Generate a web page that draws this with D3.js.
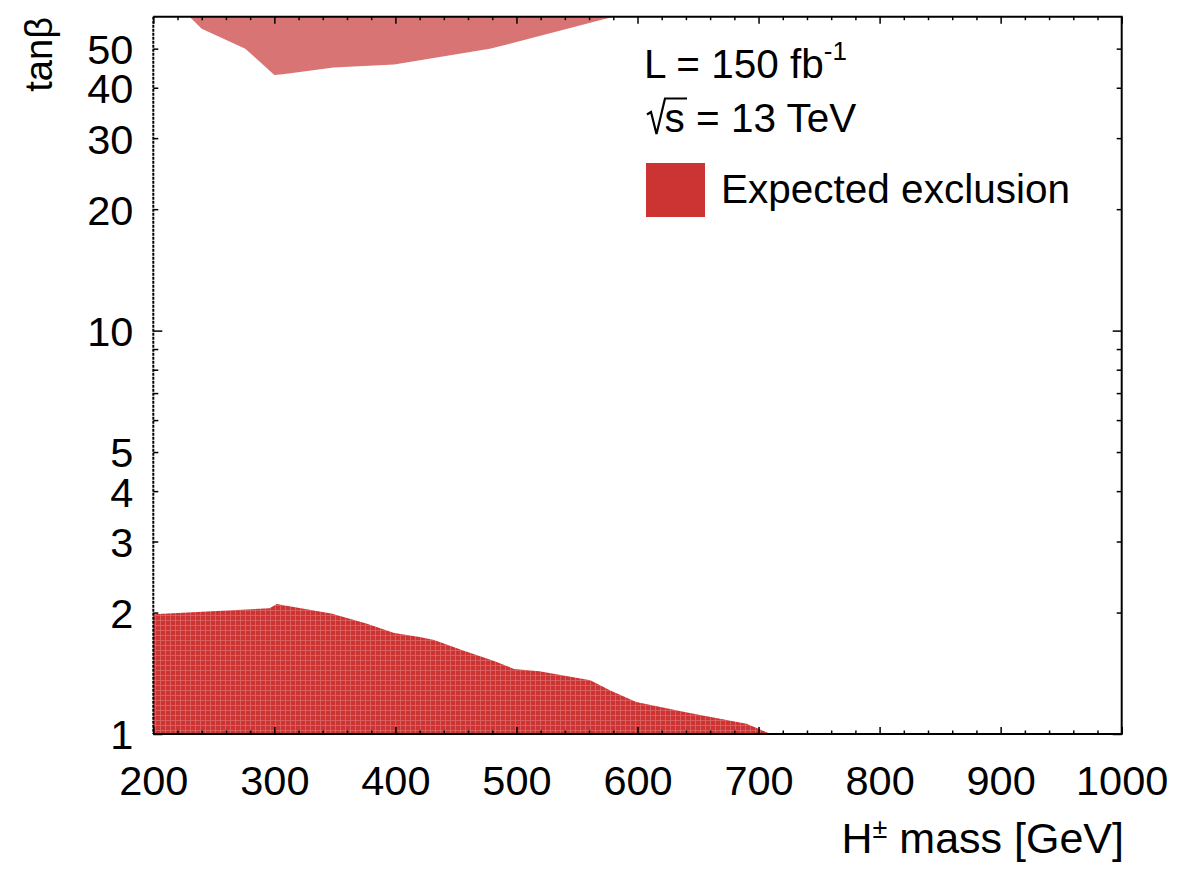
<!DOCTYPE html>
<html>
<head>
<meta charset="utf-8">
<script src="https://cdn.jsdelivr.net/npm/d3@7"></script>
<style>
  body { margin: 0; background: #fff; }
  svg text { font-family: "Liberation Sans", Arial, Helvetica, sans-serif; fill: #000; }
</style>
</head>
<body>
<svg id="chart" width="1182" height="886"></svg>
<script>
"use strict";

// exclusion contours: [mass GeV, tanβ]
const lowRegion = [
  [200, 1.98], [296, 2.05], [302, 2.10], [310, 2.08], [347, 1.99], [376, 1.88],
  [399, 1.78], [420, 1.74], [432, 1.71], [456, 1.61], [481, 1.52], [498, 1.45],
  [519, 1.43], [561, 1.36], [578, 1.28], [599, 1.20], [641, 1.13], [690, 1.06],
  [700, 1.03], [710, 1.0]
];
const highRegion = [
  [230, 60], [240, 56.0], [276, 50.0], [300, 43.0], [307, 43.2], [349, 44.9],
  [399, 45.7], [478, 50.0], [500, 51.9], [580, 60]
];

const xMajor = [200, 300, 400, 500, 600, 700, 800, 900, 1000];
const xMinor = d3.range(200, 1001, 20).filter(v => v % 100 !== 0);
const yLabelled = [1, 2, 3, 4, 5, 10, 20, 30, 40, 50];
const yMajor = [1, 10];
const yMinor = [2, 3, 4, 5, 6, 7, 8, 9, 20, 30, 40, 50];

const legendLines = ["L = 150 fb", "s = 13 TeV"];
const legendLabel = "Expected exclusion";

const svg = d3.select('#chart');
const pLeft = 153.3, pRight = 1121.7, pTop = 16.7, pBottom = 734;
const tickFont = '41.5px';

const x = d3.scaleLinear().domain([200, 1000]).range([pLeft, pRight]);
const y = d3.scaleLog().domain([1, 60]).range([pBottom, pTop]);

// fill texture for the lower band
const defs = svg.append('defs');
const pat = defs.append('pattern')
                .attr('id', 'mesh')
                .attr('patternUnits', 'userSpaceOnUse')
                .attr('width', 5).attr('height', 5);
pat.append('rect').attr('width', 5).attr('height', 5).attr('fill', '#cc3434');
pat.append('path').attr('d', 'M0,0.5H5M0.5,0V5')
   .attr('stroke', '#e88a8a').attr('stroke-width', 0.8).attr('opacity', 0.6);

const area = d3.area()
               .x(d => x(d[0]))
               .y0(y(1))
               .y1(d => y(d[1]));

svg.append('path')
   .datum(lowRegion)
   .attr('d', area)
   .attr('fill', 'url(#mesh)');

const areaTop = d3.area()
                  .x(d => x(d[0]))
                  .y0(y(60))
                  .y1(d => y(d[1]));

svg.append('path')
   .datum(highRegion)
   .attr('d', areaTop)
   .attr('fill', '#d97474');

/*-- axes ---------------------------------------------------------------*/
const g = svg.append('g');

const xAxis = g.append('g')
               .attr('transform', `translate(0,${pBottom})`)
               .call(d3.axisBottom(x).tickValues(xMajor).tickSize(-7).tickSizeOuter(0).tickFormat(d3.format('d')));
xAxis.selectAll('text').attr('y', 32).attr('dy', '0.71em').style('font-size', tickFont);

g.append('g')
 .attr('transform', `translate(0,${pBottom})`)
 .call(d3.axisBottom(x).tickValues(xMinor).tickSize(-3.5).tickSizeOuter(0).tickFormat(''));

g.append('g')
 .attr('transform', `translate(0,${pTop})`)
 .call(d3.axisTop(x).tickValues(xMajor).tickSize(-7).tickSizeOuter(0).tickFormat(''));
g.append('g')
 .attr('transform', `translate(0,${pTop})`)
 .call(d3.axisTop(x).tickValues(xMinor).tickSize(-3.5).tickSizeOuter(0).tickFormat(''));

g.append('g')
 .attr('transform', `translate(${pLeft},0)`)
 .call(d3.axisLeft(y).tickValues(yMajor).tickSize(-9).tickSizeOuter(0).tickFormat(''));
g.append('g')
 .attr('transform', `translate(${pLeft},0)`)
 .call(d3.axisLeft(y).tickValues(yMinor).tickSize(-5).tickSizeOuter(0).tickFormat(''));

const yLab = g.append('g')
              .attr('transform', `translate(${pLeft},0)`)
              .call(d3.axisLeft(y).tickValues(yLabelled).tickSize(0).tickPadding(20).tickFormat(d3.format('d')));
yLab.selectAll('text').style('font-size', tickFont).attr('dy', '0.36em');

g.append('g')
 .attr('transform', `translate(${pRight},0)`)
 .call(d3.axisRight(y).tickValues(yMajor).tickSize(-9).tickSizeOuter(0).tickFormat(''));
g.append('g')
 .attr('transform', `translate(${pRight},0)`)
 .call(d3.axisRight(y).tickValues(yMinor).tickSize(-5).tickSizeOuter(0).tickFormat(''));

g.selectAll('.domain').remove();
g.selectAll('.tick line').attr('stroke', '#000').attr('stroke-width', 1.5);

// frame
svg.append('path')
   .attr('d', `M${pLeft},${pTop}H${pRight}V${pBottom}H${pLeft}`)
   .attr('fill', 'none').attr('stroke', '#000').attr('stroke-width', 2);
svg.append('line')
   .attr('x1', pLeft).attr('x2', pLeft).attr('y1', pTop).attr('y2', pBottom)
   .attr('stroke', '#000').attr('stroke-width', 2).attr('stroke-dasharray', '3,1');

/*-- titles -------------------------------------------------------------*/
const xt = svg.append('text')
              .attr('x', 1124).attr('y', 853)
              .attr('text-anchor', 'end')
              .style('font-size', '43px');
xt.append('tspan').text('H');
xt.append('tspan').text('±').attr('dy', -15).style('font-size', '27px');
xt.append('tspan').text(' mass [GeV]').attr('dy', 15);

svg.append('text')
   .attr('transform', 'translate(52,17) rotate(-90)')
   .attr('text-anchor', 'end')
   .style('font-size', '38px')
   .text('tanβ');

/*-- legend -------------------------------------------------------------*/
const l1 = svg.append('text').attr('x', 644).attr('y', 78).style('font-size', '40.5px');
l1.append('tspan').text(legendLines[0]);
l1.append('tspan').text('-1').attr('dy', -18).style('font-size', '26px');

// radical sign drawn by hand, the text starts under its bar
svg.append('path')
   .attr('d', 'M647,114.5L651,112L656.5,134L665,98.5H687')
   .attr('fill', 'none').attr('stroke', '#000').attr('stroke-width', 2.2)
   .attr('stroke-linejoin', 'miter');
svg.append('text').attr('x', 664.5).attr('y', 132).style('font-size', '40.5px')
   .text(legendLines[1]);

svg.append('rect')
   .attr('x', 646).attr('y', 163).attr('width', 59).attr('height', 54)
   .attr('fill', '#cc3434');
svg.append('text')
   .attr('x', 721).attr('y', 203)
   .style('font-size', '40.5px')
   .text(legendLabel);
</script>
</body>
</html>
